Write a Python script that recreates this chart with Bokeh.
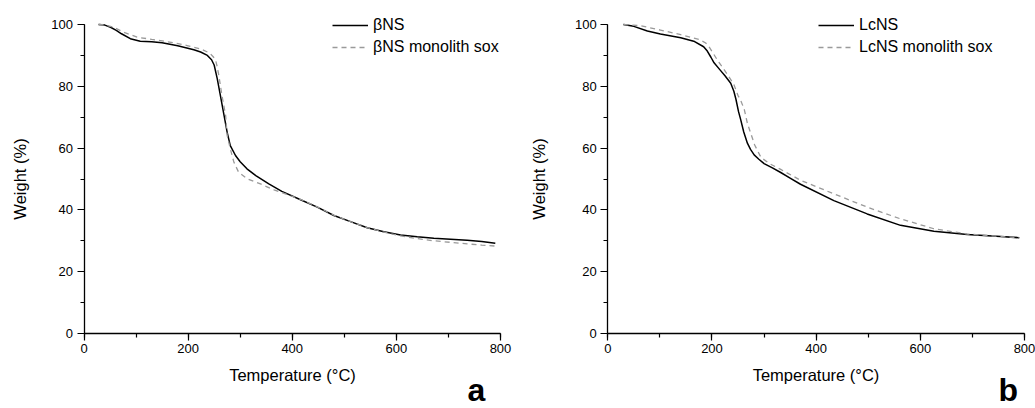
from bokeh.plotting import figure
from bokeh.layouts import row
from bokeh.models import (Range1d, SingleIntervalTicker, Legend, LegendItem, Label)
from bokeh.embed import file_html
from bokeh.resources import INLINE

# ---- data ----
# panel a
bns_t = [28, 40, 51, 62, 72, 89, 108, 130, 150, 180, 211, 224, 237, 245, 250, 256, 262, 269,
         275, 281, 291, 300, 313, 330, 355, 380, 416, 448, 480, 512, 544, 576, 608, 640, 672,
         704, 736, 764, 790]
bns_w = [100, 99.8, 99.1, 98.1, 97.0, 95.4, 94.6, 94.4, 94.1, 93.1, 91.8, 91.1, 90.0, 88.6,
         86.9, 82.4, 77.0, 70.6, 65.1, 60.8, 57.6, 55.6, 53.3, 51.1, 48.4, 46.0, 43.3, 40.9,
         38.2, 36.2, 34.2, 32.9, 31.9, 31.3, 30.8, 30.5, 30.2, 29.8, 29.2]
bns_sox_t = [28, 40, 57, 76, 102, 130, 147, 175, 198, 224, 237, 243, 249, 253, 256, 259, 265,
             272, 275, 281, 288, 297, 313, 339, 365, 416, 448, 480, 512, 544, 576, 608, 640,
             672, 704, 736, 764, 790]
bns_sox_w = [100, 99.9, 99.1, 97.5, 95.9, 95.2, 94.8, 94.0, 93.2, 92.1, 91.1, 90.5, 89.4, 88.3,
             86.2, 83.5, 77.0, 70.6, 64.1, 59.8, 55.4, 52.2, 50.1, 48.4, 46.5, 43.4, 41.0,
             38.3, 36.2, 34.3, 32.8, 31.6, 30.7, 30.0, 29.5, 29.0, 28.6, 28.3]
# panel b
lcns_t = [30, 50, 76, 101, 140, 165, 184, 191, 198, 204, 215, 225, 236, 242, 246, 251, 255,
          261, 268, 274, 281, 290, 300, 316, 332, 350, 370, 434, 498, 562, 626, 690, 754, 790]
lcns_w = [100, 99.4, 97.9, 96.9, 95.7, 94.6, 92.8, 91.4, 89.4, 87.6, 85.4, 83.4, 81.0, 78.4,
          75.8, 71.8, 69.3, 65.2, 61.6, 59.6, 57.8, 56.4, 55.0, 53.6, 52.1, 50.3, 48.3, 43.0,
          38.7, 35.0, 33.1, 32.0, 31.4, 31.0]
lcns_sox_t = [30, 63, 101, 140, 178, 188, 194, 210, 229, 242, 250, 255, 262, 268, 274, 282,
              294, 310, 332, 370, 434, 498, 562, 626, 690, 754, 790]
lcns_sox_w = [100, 99.6, 98.2, 96.7, 95.0, 94.0, 92.9, 88.6, 84.0, 80.6, 77.0, 75.5, 72.5,
              68.0, 65.0, 61.0, 57.0, 55.0, 53.1, 49.6, 45.2, 40.9, 37.1, 33.9, 32.2, 31.4,
              31.0]

x_label = "Temperature (°C)"
y_label = "Weight (%)"
x_bounds = (0, 800)
y_bounds = (0, 100)

FONT = "Liberation Sans"
H = 408
Y_TOP_PX = 24      # pixel row of 100 %
Y_ZERO_PX = 333    # pixel row of 0 %


def make_panel(width, x0_px, x1_px, t1, w1, t2, w2, name1, name2,
               legend_loc, letter, letter_x, ylab_standoff):
    # ranges chosen so that the frame fills the whole canvas; axes are pinned at 0
    ypu = (Y_ZERO_PX - Y_TOP_PX) / (y_bounds[1] - y_bounds[0])
    y_top = y_bounds[1] + Y_TOP_PX / ypu
    y_bot = y_bounds[0] - (H - Y_ZERO_PX) / ypu
    xpu = (x1_px - x0_px) / (x_bounds[1] - x_bounds[0])
    x_left = x_bounds[0] - x0_px / xpu
    x_right = x_bounds[1] + (width - x1_px) / xpu
    p = figure(width=width, height=H, output_backend="svg", toolbar_location=None,
               x_range=Range1d(x_left, x_right), y_range=Range1d(y_bot, y_top),
               min_border_left=0, min_border_right=0,
               min_border_top=0, min_border_bottom=0)
    p.outline_line_color = None
    p.xgrid.visible = False
    p.ygrid.visible = False
    p.background_fill_color = "white"
    p.border_fill_color = "white"

    p.xaxis.ticker = SingleIntervalTicker(interval=200, num_minor_ticks=2)
    p.yaxis.ticker = SingleIntervalTicker(interval=20, num_minor_ticks=2)
    p.xaxis.fixed_location = y_bounds[0]
    p.yaxis.fixed_location = x_bounds[0]
    p.xaxis.bounds = x_bounds
    p.yaxis.bounds = y_bounds
    for ax in (p.xaxis[0], p.yaxis[0]):
        ax.axis_line_width = 1.3
        ax.axis_line_color = "black"
        ax.major_tick_line_color = "black"
        ax.minor_tick_line_color = "black"
        ax.major_tick_line_width = 1.2
        ax.minor_tick_line_width = 1.2
        ax.major_tick_in = 0
        ax.major_tick_out = 7
        ax.minor_tick_in = 0
        ax.minor_tick_out = 4
        ax.major_label_text_font = FONT
        ax.major_label_text_font_size = "13px"
        ax.major_label_text_color = "black"
        ax.axis_label_text_font = FONT
        ax.axis_label_text_font_size = "16.5px"
        ax.axis_label_text_font_style = "normal"
        ax.axis_label_text_color = "black"
    p.xaxis.axis_label = x_label
    p.yaxis.axis_label = y_label
    p.xaxis.major_label_standoff = 3
    p.yaxis.major_label_standoff = 4
    p.xaxis.axis_label_standoff = 10
    p.yaxis.axis_label_standoff = ylab_standoff

    r1 = p.line(t1, w1, line_color="black", line_width=1.5)
    r2 = p.line(t2, w2, line_color="#9a9a9a", line_width=1.3, line_dash="5 4")

    legend = Legend(items=[LegendItem(label=name1, renderers=[r1]),
                           LegendItem(label=name2, renderers=[r2])],
                    location=legend_loc, padding=0, margin=0, spacing=2,
                    glyph_width=36, glyph_height=20, label_height=20, label_standoff=5,
                    border_line_color=None, background_fill_alpha=0,
                    label_text_font=FONT, label_text_font_size="16px",
                    label_text_color="black")
    p.add_layout(legend)

    p.add_layout(Label(x=letter_x, y=19, x_units="screen", y_units="screen", text=letter,
                       text_font=FONT, text_font_size="32px", text_font_style="bold",
                       text_baseline="alphabetic", text_color="black"))
    return p


p1 = make_panel(520, 83.5, 500, bns_t, bns_w, bns_sox_t, bns_sox_w,
                "βNS", "βNS monolith sox", (332, 351), "a", 467, 20)
p2 = make_panel(515, 87.3, 504, lcns_t, lcns_w, lcns_sox_t, lcns_sox_w,
                "LcNS", "LcNS monolith sox", (298, 351), "b", 478, 24)

layout = row(p1, p2)
open("out.html", "w").write(file_html(layout, INLINE))
